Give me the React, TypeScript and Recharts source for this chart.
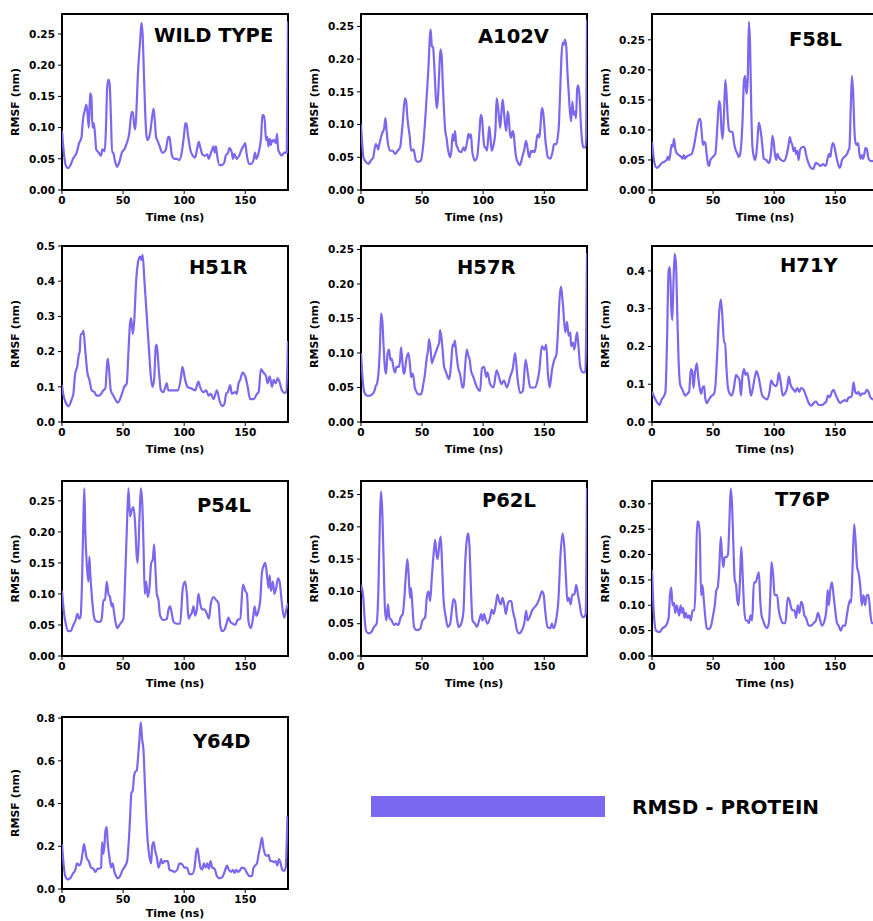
import React from 'react';
import { LineChart, Line, XAxis, YAxis, ReferenceArea } from 'recharts';

type P = [number, number];

const X_TICKS = [0, 50, 100, 150];
const T_MAX = 185;

const WILD_TYPE: P[] = [[0,.095],[1,.07],[3,.04],[5,.035],[7,.04],[9,.05],[12,.06],[14,.075],[16,.085],[17,.11],[19,.13],[20,.137],[21,.12],[22,.10],[23,.155],[24,.15],[25,.10],[26,.107],[27,.09],[28,.065],[30,.06],[32,.055],[33,.065],[35,.062],[36,.10],[37,.165],[38,.177],[39,.17],[40,.12],[41,.06],[42,.06],[43,.05],[44,.042],[45,.037],[47,.045],[49,.06],[51,.065],[53,.075],[55,.09],[57,.125],[58,.125],[59,.105],[60,.097],[61,.13],[62,.18],[64,.24],[65,.268],[66,.25],[67,.19],[68,.13],[69,.09],[70,.08],[72,.09],[74,.12],[75,.13],[76,.11],[77,.085],[78,.08],[80,.07],[82,.06],[83,.06],[85,.065],[87,.085],[88,.085],[89,.07],[90,.055],[92,.05],[94,.05],[96,.048],[98,.06],[100,.09],[101,.107],[102,.105],[103,.09],[105,.065],[107,.055],[109,.052],[111,.07],[112,.077],[113,.07],[115,.057],[117,.055],[119,.057],[120,.05],[122,.06],[123,.065],[124,.07],[125,.06],[126,.07],[127,.055],[129,.04],[131,.04],[133,.045],[134,.055],[136,.06],[137,.067],[139,.06],[140,.05],[141,.058],[143,.05],[145,.055],[147,.065],[149,.072],[150,.075],[151,.06],[153,.042],[155,.042],[157,.05],[158,.06],[159,.05],[161,.06],[163,.085],[164,.12],[165,.12],[166,.11],[167,.08],[168,.085],[169,.07],[170,.082],[171,.072],[172,.08],[173,.078],[174,.08],[175,.075],[176,.09],[177,.065],[178,.06],[180,.055],[182,.06],[184,.06],[185,.27]];

const A102V: P[] = [[0,.10],[1,.07],[2,.05],[4,.043],[6,.04],[8,.045],[10,.05],[12,.07],[13,.068],[14,.062],[15,.07],[17,.085],[19,.095],[20,.11],[21,.09],[22,.072],[24,.06],[26,.06],[28,.055],[30,.06],[32,.065],[34,.10],[36,.14],[37,.135],[38,.11],[40,.08],[41,.06],[43,.062],[45,.045],[47,.043],[49,.045],[51,.07],[53,.12],[55,.18],[57,.245],[58,.22],[59,.218],[60,.19],[61,.15],[62,.125],[63,.14],[64,.18],[65,.215],[66,.205],[67,.16],[68,.12],[69,.09],[70,.08],[71,.065],[72,.055],[73,.05],[74,.06],[75,.085],[76,.075],[77,.09],[78,.07],[79,.065],[80,.06],[82,.058],[84,.065],[85,.06],[87,.075],[88,.086],[89,.08],[90,.085],[91,.06],[92,.05],[93,.045],[95,.05],[97,.09],[98,.115],[99,.11],[100,.085],[101,.065],[102,.065],[103,.06],[104,.075],[105,.097],[106,.08],[107,.06],[108,.065],[110,.09],[111,.14],[112,.13],[113,.11],[114,.095],[115,.12],[116,.138],[117,.12],[118,.10],[119,.09],[120,.12],[121,.11],[122,.085],[123,.08],[124,.09],[125,.085],[126,.065],[127,.05],[129,.04],[130,.038],[132,.05],[134,.065],[135,.075],[136,.068],[137,.055],[138,.05],[139,.06],[140,.058],[141,.06],[142,.058],[143,.065],[144,.08],[145,.085],[146,.08],[147,.10],[148,.125],[149,.12],[150,.10],[151,.075],[152,.06],[153,.05],[155,.048],[157,.06],[158,.07],[160,.07],[161,.08],[162,.10],[163,.15],[164,.20],[165,.225],[166,.222],[167,.23],[168,.22],[169,.18],[170,.15],[171,.12],[172,.105],[173,.135],[174,.115],[175,.12],[176,.11],[177,.155],[178,.16],[179,.14],[180,.10],[181,.075],[182,.065],[184,.065],[185,.26]];

const F58L: P[] = [[0,.08],[1,.06],[2,.045],[4,.037],[6,.04],[8,.045],[10,.047],[12,.05],[13,.055],[14,.05],[15,.06],[16,.075],[17,.072],[18,.085],[19,.07],[20,.062],[22,.058],[24,.055],[25,.052],[26,.058],[27,.052],[28,.055],[30.5,.058],[32.5,.06],[34.5,.075],[36.6,.10],[38.6,.118],[39.6,.118],[40.7,.095],[41.7,.075],[42.7,.08],[43.7,.078],[44.7,.06],[45.7,.045],[46.8,.04],[47.8,.05],[49.8,.055],[51.8,.06],[52.9,.085],[53.9,.12],[54.9,.148],[55.9,.14],[56.9,.10],[57.9,.085],[59,.13],[60,.183],[61,.16],[62,.12],[63,.10],[64,.097],[66,.097],[67,.08],[68,.07],[70,.06],[71,.055],[72.2,.06],[73.2,.08],[74.2,.12],[75.2,.18],[76.2,.19],[77.3,.16],[78.3,.18],[79.3,.28],[80.3,.24],[81.3,.13],[82.3,.07],[83.4,.055],[84.4,.05],[85.4,.06],[86.4,.085],[87.4,.112],[88.4,.105],[89.5,.09],[90.5,.07],[91.5,.052],[93.5,.05],[95.6,.045],[96.6,.05],[97.6,.065],[98.6,.09],[99.6,.08],[100.6,.06],[101.7,.05],[102.7,.06],[103.7,.055],[105.7,.05],[107.7,.048],[109.8,.055],[111.8,.075],[112.8,.088],[113.8,.08],[114.9,.075],[115.9,.065],[116.9,.07],[117.9,.06],[118.9,.065],[120,.05],[121,.065],[122,.07],[124,.072],[125,.07],[126,.06],[128,.045],[130,.037],[132,.035],[133,.04],[134,.045],[136,.043],[138,.04],[140,.043],[142,.04],[143,.045],[144,.055],[145,.06],[146,.055],[147,.07],[148,.078],[149,.075],[150,.065],[151.5,.05],[152.5,.042],[153.5,.037],[154.5,.04],[155.5,.05],[157.5,.055],[159.6,.06],[160.6,.065],[161.6,.07],[162.6,.13],[163.7,.19],[164.7,.16],[165.7,.10],[166.7,.078],[167.7,.075],[168.7,.078],[169.8,.06],[170.8,.052],[171.8,.058],[172.8,.052],[173.8,.06],[174.8,.07],[175.9,.068],[176.9,.055],[177.9,.05],[179.9,.048],[182,.05],[184,.06],[185,.09]];

const H51R: P[] = [[0,.105],[1,.08],[2.5,.06],[3.8,.05],[5.2,.045],[8,.065],[9.3,.08],[10.7,.135],[12.6,.16],[13.7,.19],[14.5,.2],[15.3,.25],[16.4,.25],[17.5,.26],[19.1,.2],[20.8,.14],[22.4,.12],[24.3,.09],[26.5,.085],[28.4,.075],[30.6,.075],[32,.08],[33.9,.09],[35.5,.095],[36.6,.15],[37.4,.18],[38.5,.15],[39.9,.09],[42,.075],[44.3,.06],[45.6,.055],[47.5,.065],[49.5,.085],[51,.10],[53,.11],[54.4,.2],[55.7,.28],[56.6,.295],[58,.25],[59,.28],[60.7,.40],[62.6,.46],[64,.47],[65,.46],[66,.475],[67.5,.40],[69.4,.30],[71.3,.20],[72.7,.13],[74,.10],[75.4,.12],[76.8,.215],[77.6,.22],[79.2,.15],[81,.09],[83,.085],[85.8,.11],[87,.09],[91,.09],[95,.09],[97.5,.13],[98.6,.157],[100.8,.12],[102.7,.10],[106,.095],[109,.09],[111.7,.115],[113,.10],[115.8,.085],[118,.09],[120,.075],[121.9,.08],[124,.065],[126.8,.09],[129,.06],[131,.045],[132.8,.05],[134.4,.08],[135.8,.085],[137.7,.105],[139,.08],[141.8,.085],[143,.08],[144.5,.11],[145.9,.12],[147.8,.14],[150,.13],[152,.10],[154,.065],[156.8,.065],[159.6,.08],[161,.085],[162.8,.15],[165,.14],[167,.13],[168.3,.11],[170,.13],[171.9,.10],[173.2,.12],[174.9,.11],[176.5,.125],[178,.115],[180,.09],[182,.083],[183.5,.085],[185,.23]];

const H57R: P[] = [[0,.10],[1,.07],[2,.05],[3,.042],[5,.038],[7,.038],[9,.04],[11,.045],[12,.052],[13,.055],[14.5,.075],[15.5,.11],[16.4,.157],[17.5,.145],[18.5,.11],[19.5,.08],[20.5,.07],[21.8,.10],[23,.105],[24,.09],[25,.092],[26,.085],[27,.075],[28,.072],[29,.08],[31,.08],[32,.09],[32.8,.108],[34,.085],[35,.07],[36,.075],[37,.09],[38.8,.10],[40,.085],[41,.065],[42,.07],[43,.065],[44,.05],[45,.045],[47,.04],[49,.04],[50,.045],[51,.055],[52,.065],[53,.08],[54,.095],[55,.105],[55.7,.12],[57,.105],[58,.085],[59,.09],[60,.095],[61,.10],[62,.105],[63,.11],[64,.115],[64.7,.133],[66,.12],[67,.10],[68,.08],[69,.075],[70,.07],[71,.065],[72,.062],[73,.07],[74,.09],[75,.112],[76,.11],[76.8,.118],[78,.10],[79,.085],[80,.075],[81,.07],[82,.06],[83,.05],[84,.05],[85,.075],[86.6,.105],[88,.095],[89,.09],[90,.075],[92,.065],[95,.05],[97.5,.045],[99,.078],[100.8,.08],[102.5,.065],[103.5,.072],[105.7,.055],[108.5,.05],[111,.075],[113,.065],[115,.055],[117,.06],[119.4,.05],[122,.065],[124.3,.078],[126.2,.10],[128,.065],[130.3,.042],[132.5,.045],[134.7,.09],[136.6,.07],[138.5,.05],[140.4,.05],[142.6,.05],[144.5,.06],[146,.075],[148,.11],[150,.105],[151.6,.112],[153,.07],[154.4,.05],[156.3,.075],[158.2,.09],[160,.098],[161.2,.13],[162.6,.18],[163.7,.196],[165.3,.17],[167.2,.13],[168.6,.145],[170,.125],[171.3,.13],[172,.11],[173.5,.115],[174.6,.105],[176.8,.13],[178,.11],[179.5,.08],[181.7,.072],[183.6,.072],[185,.245]];

const H71Y: P[] = [[0,.08],[2,.065],[4.6,.05],[6,.045],[8,.06],[10,.07],[11,.08],[12.2,.20],[13.6,.40],[14.7,.41],[15.8,.30],[16.6,.27],[17.4,.35],[18.5,.445],[19.6,.42],[20.6,.30],[21.7,.17],[23,.10],[25,.085],[27.2,.07],[29,.075],[30.4,.08],[31.8,.14],[32.9,.135],[34,.09],[35,.125],[36.7,.155],[37.8,.12],[39,.09],[40.2,.075],[41.3,.09],[42.7,.095],[43.5,.065],[44.8,.05],[46.7,.06],[49,.07],[50.8,.075],[52,.10],[53.5,.19],[55,.29],[56.3,.325],[57.6,.28],[59,.21],[59.8,.21],[61,.14],[62.2,.09],[63.6,.075],[65.2,.07],[67,.09],[68.8,.125],[70,.12],[71.7,.11],[72.8,.07],[74,.12],[75.3,.14],[76.6,.125],[78,.13],[79.3,.11],[81,.07],[82.6,.09],[84.2,.12],[85.6,.135],[87.5,.115],[88.9,.09],[90.2,.07],[91.6,.065],[94.3,.06],[96.2,.08],[97.6,.11],[99.2,.10],[101,.095],[102.4,.10],[103.8,.13],[105.4,.105],[107,.07],[108.7,.075],[110.6,.09],[112,.12],[113.3,.10],[114.7,.09],[116,.085],[117.4,.08],[118.8,.09],[120.6,.08],[122,.09],[124.2,.085],[126,.07],[128.3,.05],[130.4,.043],[132.3,.05],[134.2,.055],[136.4,.045],[139,.045],[141.3,.05],[142.7,.055],[144,.07],[145.4,.065],[147.3,.08],[148.6,.085],[150,.075],[152,.06],[154,.05],[156,.055],[158,.058],[159.5,.055],[160.9,.065],[162.2,.065],[163.6,.07],[165,.105],[166.3,.08],[167.7,.075],[169,.08],[170.4,.07],[171.7,.075],[174,.075],[175.8,.085],[177.2,.08],[178.8,.065],[181,.06],[183,.065],[185,.09]];

const P54L: P[] = [[0,.105],[1.6,.07],[3.3,.05],[5.2,.04],[7,.04],[9.3,.05],[11.5,.06],[12.6,.068],[14,.06],[15.3,.065],[16.4,.12],[17.5,.22],[18.3,.27],[19.1,.20],[20.2,.15],[21.6,.12],[22.4,.16],[23.2,.13],[24.3,.10],[25.7,.07],[27,.058],[29.2,.055],[31.1,.055],[32.5,.06],[33.9,.09],[35.2,.09],[36.6,.12],[38,.10],[39.3,.095],[40.7,.08],[41.5,.085],[42.6,.07],[44.3,.05],[45.4,.045],[47,.05],[48.9,.055],[50.3,.06],[51.6,.12],[53,.20],[54.4,.27],[55.7,.225],[57.1,.235],[58.5,.24],[59.8,.215],[61.2,.16],[62,.15],[63.4,.22],[64.5,.27],[65.6,.25],[66.7,.18],[67.8,.10],[68.9,.12],[70.2,.095],[71.6,.11],[73,.15],[74.3,.155],[75.4,.18],[76.5,.14],[77.6,.10],[79,.09],[80.3,.065],[83,.058],[85.8,.06],[87.2,.075],[88.5,.08],[89.9,.068],[91.3,.055],[94,.052],[96.7,.052],[98.9,.11],[100.8,.12],[102.2,.10],[103.6,.06],[104.9,.065],[106.3,.07],[107.7,.08],[109,.065],[110.4,.075],[111.7,.10],[113.1,.085],[114.5,.075],[116.4,.075],[118.6,.068],[120.2,.06],[121.9,.085],[124,.095],[126.2,.09],[128.1,.085],[129.5,.05],[130.9,.04],[132.8,.042],[134.4,.05],[136.3,.062],[137.7,.055],[139.9,.052],[141.8,.05],[143.7,.058],[145.9,.06],[148.1,.115],[150,.105],[151.4,.10],[152.7,.055],[154.6,.045],[156.3,.06],[157.7,.08],[159,.065],[160.4,.07],[162.3,.09],[163.7,.135],[165,.145],[166.4,.15],[167.8,.13],[169.1,.11],[170,.13],[171,.105],[172.7,.12],[173.8,.10],[175.4,.11],[176.8,.125],[178.1,.12],[179.5,.095],[180.9,.07],[182,.062],[183.6,.075],[185,.085]];

const P62L: P[] = [[0,.11],[1.9,.09],[3.3,.05],[4.6,.037],[6.6,.035],[8.7,.038],[10.7,.045],[12.8,.05],[14.2,.10],[15.6,.22],[16.4,.255],[17.5,.22],[18.6,.14],[19.7,.07],[20.8,.055],[22.1,.08],[23.2,.06],[25.1,.055],[27,.048],[28.7,.05],[30.6,.048],[32.5,.06],[34.2,.065],[35.5,.09],[36.9,.13],[38,.15],[39,.125],[40.2,.09],[41,.105],[42,.08],[43.4,.045],[45.6,.04],[48.4,.042],[50.3,.055],[52.5,.06],[53.8,.09],[55.2,.10],[56.6,.085],[57.9,.12],[59.3,.155],[60.7,.18],[62,.155],[62.8,.15],[64.2,.175],[65.3,.185],[66.4,.14],[67.5,.09],[69.4,.06],[71,.045],[73,.05],[74.3,.07],[75.7,.088],[77,.085],[78.4,.06],[79.8,.045],[82,.05],[83.9,.07],[85.2,.14],[86.6,.18],[87.7,.19],[88.8,.17],[89.9,.11],[91.3,.055],[93.4,.05],[94.8,.045],[96.7,.055],[98.4,.065],[99.5,.055],[100.8,.065],[102.2,.055],[103.6,.05],[105.7,.06],[107.1,.072],[108.5,.065],[110.4,.08],[111.7,.095],[113.1,.085],[114.5,.08],[115.8,.09],[117.2,.08],[118.6,.065],[120,.08],[121.6,.085],[123,.085],[124.3,.07],[126.2,.055],[127.6,.04],[129.5,.035],[131.7,.04],[133.6,.05],[135.2,.07],[136.3,.055],[138,.06],[139.9,.07],[141.8,.075],[144,.08],[146.2,.09],[148.1,.10],[149.5,.095],[150.8,.07],[152.7,.045],[154.9,.043],[156.3,.05],[157.7,.043],[159.6,.055],[161.7,.09],[163.1,.15],[165,.19],[166.4,.17],[167.8,.12],[168.9,.085],[170.2,.09],[171.6,.08],[173,.095],[174.6,.095],[176.2,.11],[177.6,.095],[179,.08],[180.3,.065],[182.2,.06],[183.9,.065],[185,.26]];

const T76P: P[] = [[0,.17],[1.6,.08],[3.3,.05],[6,.047],[8.7,.055],[11.4,.06],[13.6,.075],[14.7,.12],[15.8,.135],[16.8,.10],[18,.105],[19,.085],[20.1,.10],[21.2,.09],[22.3,.08],[23.4,.10],[24.5,.085],[25.5,.095],[26.6,.075],[27.7,.085],[29,.075],[30.4,.08],[31.8,.07],[33.2,.09],[34.8,.09],[35.9,.16],[37,.265],[38,.265],[39.1,.24],[40.2,.12],[41.3,.14],[42.4,.11],[43.5,.08],[44.8,.055],[46.7,.053],[48.4,.06],[50,.08],[51.4,.10],[52.7,.13],[53.8,.135],[55,.17],[56.3,.235],[57.3,.20],[58.4,.175],[59.5,.195],[61.1,.195],[62.2,.20],[63.3,.26],[64.4,.33],[65.5,.30],[66.6,.22],[67.7,.15],[68.8,.14],[69.8,.11],[70.9,.10],[72,.15],[73.1,.215],[74.2,.16],[75.3,.10],[76.6,.07],[78,.07],[79.3,.065],[80.7,.08],[82,.07],[83.4,.145],[84.8,.145],[86.1,.155],[87.5,.165],[88.6,.11],[89.7,.08],[91,.07],[92.4,.06],[94,.055],[95.7,.065],[97,.13],[97.8,.185],[99.2,.16],[100.3,.12],[102.4,.12],[103.8,.09],[105.2,.075],[107,.065],[109.2,.065],[111.1,.115],[112.5,.11],[113.9,.095],[115.2,.09],[116.6,.09],[118,.075],[119.3,.10],[120.7,.085],[122,.107],[123.4,.10],[124.7,.08],[126.1,.075],[128.3,.06],[130.4,.06],[132.3,.065],[134.2,.07],[135.9,.085],[137.2,.075],[139.1,.06],[141.3,.07],[142.7,.09],[143.8,.13],[144.8,.10],[145.9,.13],[147.3,.145],[148.6,.12],[150,.09],[151.4,.065],[152.7,.06],[154.6,.05],[156.3,.06],[158.2,.06],[159.5,.08],[160.9,.10],[162.2,.11],[163,.105],[164.1,.17],[165.5,.26],[166.8,.22],[167.9,.175],[169,.165],[170.4,.14],[171.7,.10],[173.1,.12],[174.5,.10],[175.8,.12],[177.2,.12],[178.5,.09],[179.9,.065],[181.3,.065],[183,.07],[185,.10]];

const Y64D: P[] = [[0,.21],[1.6,.10],[2.7,.06],[4.6,.045],[6.6,.05],[8.7,.07],[10.9,.09],[12.3,.12],[14.2,.11],[15.8,.13],[16.9,.17],[18,.21],[19.1,.18],[20.2,.145],[21.9,.13],[23.8,.10],[25.7,.095],[27.3,.08],[29.2,.095],[30.6,.095],[32,.10],[32.8,.22],[33.9,.165],[34.7,.20],[35.5,.27],[36.6,.29],[37.4,.22],[38.8,.15],[40.2,.10],[41.5,.12],[42.9,.08],[44.3,.06],[45.6,.05],[47.5,.06],[49.7,.09],[51.9,.11],[53.3,.13],[54.4,.20],[55.7,.33],[56.8,.45],[57.9,.46],[59,.53],[60.1,.55],[61.2,.555],[62.3,.62],[63.4,.70],[64.5,.78],[65.6,.70],[66.7,.65],[67.8,.50],[68.9,.35],[70.2,.22],[71.6,.15],[73,.12],[73.8,.20],[75.1,.22],[76.2,.18],[77.6,.15],[79,.10],[80.3,.12],[81.1,.14],[82.5,.12],[83.9,.13],[85.2,.13],[86.6,.13],[88,.09],[90.2,.085],[92,.08],[94.3,.09],[96.2,.12],[98.4,.115],[100.3,.10],[102.2,.10],[104.4,.07],[106.6,.07],[108.5,.10],[109.8,.17],[110.9,.19],[112,.15],[113.4,.10],[114.8,.09],[116.1,.12],[117.5,.10],[118.9,.12],[120.2,.095],[121.6,.13],[123,.10],[124.9,.095],[126.8,.06],[129,.05],[131.1,.055],[133.1,.08],[135,.11],[136.6,.09],[138.5,.08],[139.9,.09],[141.3,.075],[142.6,.09],[144,.08],[145.4,.085],[147.3,.10],[149.5,.095],[151.4,.075],[153.6,.06],[155.5,.06],[156.8,.10],[158.2,.11],[159.6,.12],[160.9,.16],[162.3,.20],[163.7,.24],[165,.19],[166.4,.16],[167.8,.155],[169.1,.16],[170.5,.13],[172.1,.13],[173.5,.125],[174.9,.13],[176.2,.11],[177.6,.14],[179,.12],[180.3,.09],[181.7,.085],[183.1,.10],[184.5,.34]];

const TICKS_005 = [0, 0.05, 0.1, 0.15, 0.2, 0.25];
const TICKS_005_30 = [0, 0.05, 0.1, 0.15, 0.2, 0.25, 0.3];
const TICKS_01_5 = [0, 0.1, 0.2, 0.3, 0.4, 0.5];
const TICKS_01_4 = [0, 0.1, 0.2, 0.3, 0.4];
const TICKS_02 = [0, 0.2, 0.4, 0.6, 0.8];

const LINE_COLOR = '#7b68ee';
const FONT = "'DejaVu Sans', sans-serif";

const PLOT_W = 226;
const COLS = [62, 361, 652];
const ROWS = [
  { top: 14, h: 176, lab: 31 },
  { top: 246, h: 176, lab: 31 },
  { top: 481, h: 175, lab: 31 },
  { top: 717, h: 172, lab: 28 },
];

const PANELS = [
  { name: 'WILD TYPE', pts: WILD_TYPE, yMax: 0.282, ticks: TICKS_005, dec: 2, col: 0, row: 0, tx: 154, ty: 42 },
  { name: 'A102V', pts: A102V, yMax: 0.269, ticks: TICKS_005, dec: 2, col: 1, row: 0, tx: 478, ty: 43 },
  { name: 'F58L', pts: F58L, yMax: 0.293, ticks: TICKS_005, dec: 2, col: 2, row: 0, tx: 789, ty: 46 },
  { name: 'H51R', pts: H51R, yMax: 0.5, ticks: TICKS_01_5, dec: 1, col: 0, row: 1, tx: 189, ty: 274 },
  { name: 'H57R', pts: H57R, yMax: 0.255, ticks: TICKS_005, dec: 2, col: 1, row: 1, tx: 457, ty: 274 },
  { name: 'H71Y', pts: H71Y, yMax: 0.466, ticks: TICKS_01_4, dec: 1, col: 2, row: 1, tx: 780, ty: 272 },
  { name: 'P54L', pts: P54L, yMax: 0.282, ticks: TICKS_005, dec: 2, col: 0, row: 2, tx: 197, ty: 512 },
  { name: 'P62L', pts: P62L, yMax: 0.271, ticks: TICKS_005, dec: 2, col: 1, row: 2, tx: 482, ty: 507 },
  { name: 'T76P', pts: T76P, yMax: 0.345, ticks: TICKS_005_30, dec: 2, col: 2, row: 2, tx: 775, ty: 506 },
  { name: 'Y64D', pts: Y64D, yMax: 0.805, ticks: TICKS_02, dec: 1, col: 0, row: 3, tx: 193, ty: 748 },
];

const ML = 62;
const MT = 6;
const MR = 6;
const XH = 44;

const tickStyle = { fontSize: 10.5, fontWeight: 'bold', fill: '#000', fontFamily: FONT };

function Panel({ p }: { p: typeof PANELS[number] }) {
  const left = COLS[p.col];
  const { top, h } = ROWS[p.row];
  const data = p.pts.map(([t, v]) => ({ t, v }));
  return (
    <div style={{ position: 'absolute', left: left - ML, top: top - MT }}>
      <LineChart width={ML + PLOT_W + MR} height={MT + h + XH} data={data} margin={{ top: MT, right: MR, left: 0, bottom: 0 }}>
        <XAxis
          type="number"
          dataKey="t"
          domain={[0, T_MAX]}
          ticks={X_TICKS}
          interval={0}
          allowDataOverflow
          axisLine={false}
          tickLine={{ stroke: '#000', strokeWidth: 1 }}
          tickSize={4}
          tickMargin={3}
          height={XH}
          tick={tickStyle}
        />
        <YAxis
          type="number"
          domain={[0, p.yMax]}
          ticks={p.ticks}
          interval={0}
          allowDataOverflow
          axisLine={false}
          tickLine={{ stroke: '#000', strokeWidth: 1 }}
          tickSize={4}
          tickMargin={3}
          width={ML}
          tick={tickStyle}
          tickFormatter={(v: number) => v.toFixed(p.dec)}
        />
        <ReferenceArea x1={0} x2={T_MAX} y1={0} y2={p.yMax} fill="none" stroke="#000" strokeWidth={2} ifOverflow="visible" />
        <Line type="monotone" dataKey="v" stroke={LINE_COLOR} strokeWidth={2.2} dot={false} isAnimationActive={false} />
      </LineChart>
    </div>
  );
}

export default function App() {
  return (
    <div style={{ position: 'absolute', left: 0, top: 0, width: 873, height: 921, overflow: 'hidden', background: '#fff' }}>
      {PANELS.map((p) => (
        <Panel key={p.name} p={p} />
      ))}
      <svg width={873} height={921} style={{ position: 'absolute', left: 0, top: 0, pointerEvents: 'none' }}>
        {PANELS.map((p) => {
          const left = COLS[p.col];
          const { top, h, lab } = ROWS[p.row];
          const cy = top + h / 2;
          const lx = left - 47;
          return (
            <g key={p.name}>
              <text x={p.tx} y={p.ty} fontFamily={FONT} fontWeight="bold" fontSize={19.5} fill="#000">{p.name}</text>
              <text x={lx} y={cy} transform={`rotate(-90 ${lx} ${cy})`} textAnchor="middle" dominantBaseline="central" fontFamily={FONT} fontWeight="bold" fontSize={11} fill="#000">RMSF (nm)</text>
              <text x={left + PLOT_W / 2} y={top + h + lab} textAnchor="middle" fontFamily={FONT} fontWeight="bold" fontSize={11} fill="#000">Time (ns)</text>
            </g>
          );
        })}
        <rect x={371} y={796} width={234} height={21} fill={LINE_COLOR} />
        <text x={632} y={814} fontFamily={FONT} fontWeight="bold" fontSize={20} fill="#000">RMSD - PROTEIN</text>
      </svg>
    </div>
  );
}
